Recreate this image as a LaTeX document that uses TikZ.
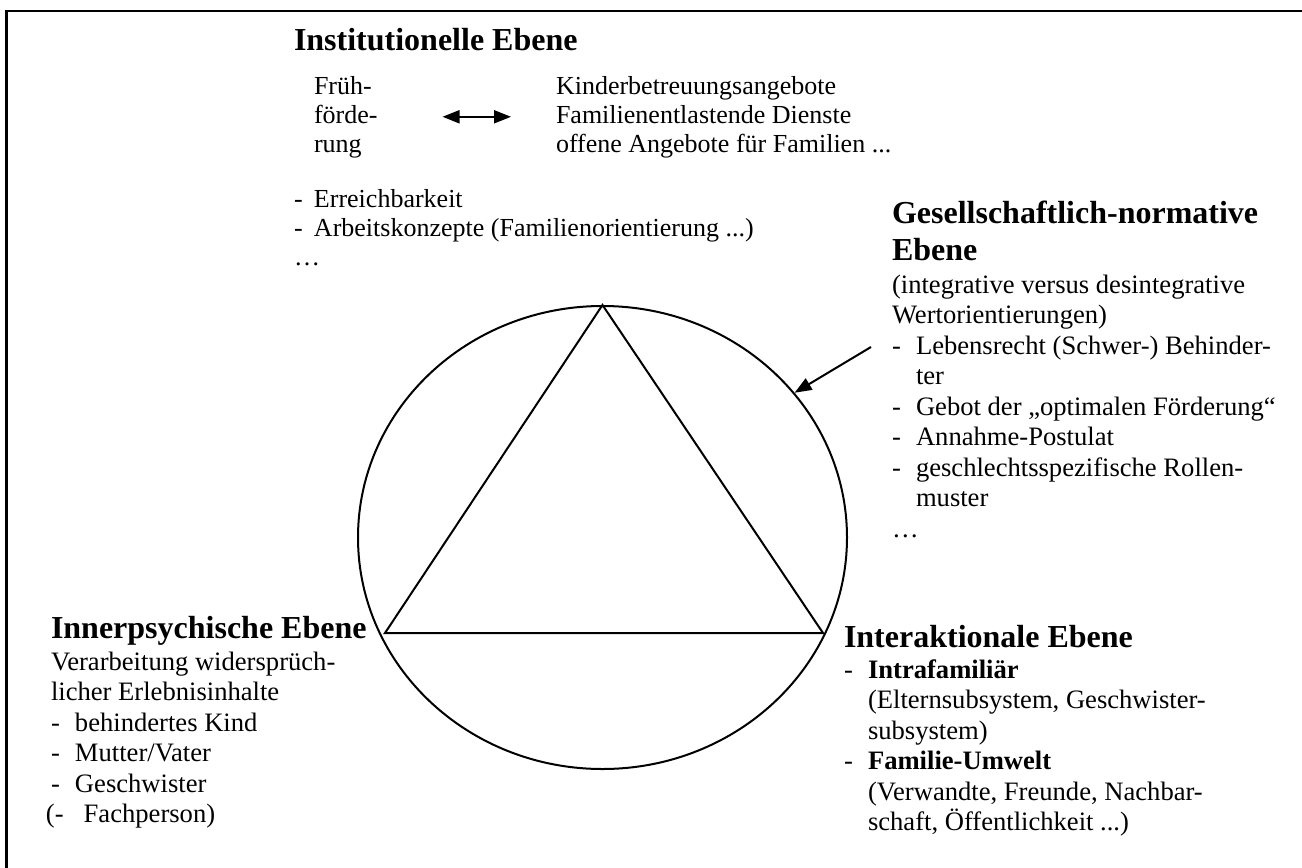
\documentclass[tikz,border=0pt]{standalone}
\usepackage{fontspec}
\setmainfont{Liberation Serif}
\usetikzlibrary{arrows.meta, shapes.geometric}
% dash in front of a list item, and the matching indent
\newcommand{\strich}[1][12pt]{\makebox[#1][l]{-}}
\newcommand{\einzug}[1][12pt]{\hspace*{#1}}
\tikzset{
  % multi-line nodes sit on the baseline of their last line
  every node/.style={inner sep=0pt, anchor=base west, align=left},
  % headings and text blocks
  titel/.style ={font=\fontsize{16}{18.5}\selectfont\bfseries},
  oben/.style  ={font=\fontsize{13}{14.5}\selectfont},
  fliess/.style={font=\fontsize{13.3}{15.25}\selectfont},
  % lines
  rahmen/.style={line width=1.3pt},
  kreis/.style ={draw, ellipse, anchor=center, line width=1pt,
                 minimum width=244.5pt, minimum height=231.5pt},
  pfeil/.style ={-{Triangle[length=8.5pt,width=6.5pt]}, line width=1pt},
  doppel/.style={{Triangle[length=8.5pt,width=6.5pt]}-{Triangle[length=8.5pt,width=6.5pt]},
                 line width=1pt},
}
\begin{document}
\begin{tikzpicture}[x=0.5pt, y=-0.5pt, line width=1pt]
\useasboundingbox (0,0) rectangle (1302,868);

% frame
\draw[rahmen] (6.5,868) -- (6.5,11) -- (1302,11);

% circle with triangle
\node[kreis] (ring) at (602.5,537.5) {};
\draw (ring.north) -- (385,633) -- (823,633) -- cycle;

% institutional level
\node[titel] (inst) at (293,50) {Institutionelle Ebene};
\node[oben] (frueh) at (313,152) {Früh-\\förde-\\rung};
\node[oben] (angebote) at (555,152) {Kinderbetreuungsangebote\\Familienentlastende Dienste\\offene Angebote für Familien ...};
\draw[doppel, shorten <=32pt, shorten >=22pt] (frueh.east) -- (angebote.west);
\node[oben] (merkmale) at (293,265) {\strich[10pt]Erreichbarkeit\\\strich[10pt]Arbeitskonzepte (Familienorientierung ...)\\…};

% societal level
\node[titel] (gesell) at (891,260) {Gesellschaftlich-normative\\Ebene};
\node[fliess] (werte) at (891,537) {(integrative versus desintegrative\\Wertorientierungen)\\\strich Lebensrecht (Schwer-) Behinder-\\\einzug ter\\\strich Gebot der „optimalen Förderung“\\\strich Annahme-Postulat\\\strich geschlechtsspezifische Rollen-\\\einzug muster\\…};
\coordinate (pfeilstart) at (871,347);
\draw[pfeil] (pfeilstart) -- (ring.37);

% intrapsychic level
\node[titel] (inner) at (50,638) {Innerpsychische Ebene};
\node[fliess] (verarb) at (50,822.5) {Verarbeitung widersprüch-\\licher Erlebnisinhalte\\\strich behindertes Kind\\\strich Mutter/Vater\\\strich Geschwister\\\hspace*{-2.5pt}(-\hspace{10pt}Fachperson)};

% interactional level
\node[titel] (inter) at (843,647) {Interaktionale Ebene};
\node[fliess] (interliste) at (843,830.5) {\strich\textbf{Intrafamiliär}\\\einzug(Elternsubsystem, Geschwister-\\\einzug subsystem)\\\strich\textbf{Familie-Umwelt}\\\einzug(Verwandte, Freunde, Nachbar-\\\einzug schaft, Öffentlichkeit ...)};

\end{tikzpicture}
\end{document}
